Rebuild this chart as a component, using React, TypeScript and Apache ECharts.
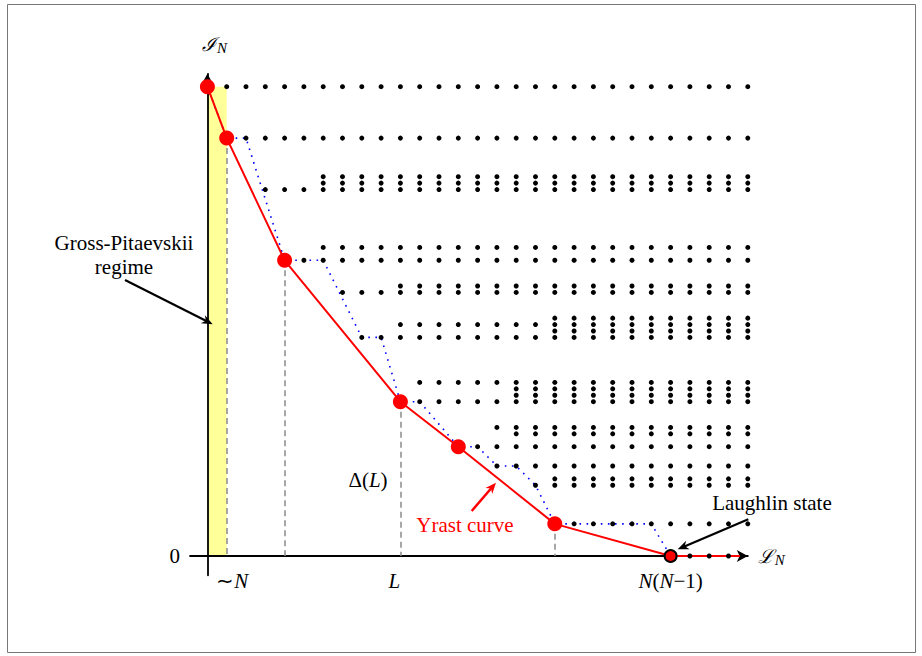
import React, { useEffect, useRef } from "react";
import * as echarts from "echarts";

// Energy levels (rows) of the many-body spectrum: interaction energy and the
// range of angular momentum L (column index) over which states exist.
const levelEnergy = [73, 65, 59, 58, 57, 48, 46, 42, 41, 37, 36, 35, 34, 27, 26, 25, 24, 20, 19, 17, 14, 12, 11, 5, 0];
const levelFirstL = [1, 2, 6, 6, 3, 6, 5, 10, 7, 18, 10, 18, 8, 11, 16, 16, 11, 15, 16, 14, 15, 18, 17, 19, 25];
const levelLastL = [28, 28, 28, 28, 28, 28, 28, 28, 28, 28, 28, 28, 28, 28, 28, 28, 28, 28, 28, 28, 28, 28, 28, 28, 27];

// Yrast curve (red)
const yrastL = [0, 1, 4, 10, 13, 18];
const yrastE = [73, 65, 46, 24, 17, 5];
const laughlinL = 24;
const laughlinE = 0;
const yrastTailL = 27.6;

// Lowest state for each L (blue dotted)
const lowestL = [0, 1, 2, 4, 6, 8, 9, 10, 11, 13, 14, 15, 16, 17, 18, 23, 24];
const lowestE = [73, 65, 65, 46, 46, 34, 34, 24, 24, 17, 17, 14, 14, 11, 5, 5, 0];

// Dashed drop lines
const dropL = [1, 4, 10, 18];
const dropE = [65, 46, 24, 5];

// Gross-Pitaevskii band
const gpBandL = [0, 1];
const gpBandTop = 73;

// Tick labels
const xTickValues = [1, 10, 24];
const xTickLabels = ["{sh|∼}{i|N}", "{il|L}", "{i|N}({i|N}−1)"];
const yTickValues = [0];
const yTickLabels = ["0"];

const FONT = "Liberation Serif";
const SCRIPT_FONT = "DejaVu Serif";

function arrow(x1: number, y1: number, x2: number, y2: number, color: string, w: number) {
  const dx = x2 - x1;
  const dy = y2 - y1;
  const len = Math.hypot(dx, dy);
  const ux = dx / len;
  const uy = dy / len;
  const hl = 11;
  const hw = 4.5;
  const bx = x2 - ux * hl;
  const by = y2 - uy * hl;
  const nx = -uy;
  const ny = ux;
  return [
    {
      type: "line",
      shape: { x1, y1, x2: x2 - ux * 6, y2: y2 - uy * 6 },
      style: { stroke: color, lineWidth: w },
      z: 20,
    },
    {
      type: "polygon",
      shape: {
        points: [
          [x2, y2],
          [bx + nx * hw, by + ny * hw],
          [x2 - ux * hl * 0.7, y2 - uy * hl * 0.7],
          [bx - nx * hw, by - ny * hw],
        ],
      },
      style: { fill: color },
      z: 20,
    },
  ];
}

export default function App() {
  const ref = useRef<HTMLDivElement>(null);

  useEffect(() => {
    if (!ref.current) return;
    const chart = echarts.init(ref.current, undefined, { renderer: "svg" });

    const states: number[][] = [];
    levelEnergy.forEach((e, i) => {
      for (let l = levelFirstL[i]; l <= levelLastL[i]; l++) states.push([l, e]);
    });

    const yrastPts = yrastL.map((l, i) => [l, yrastE[i]]);
    const redLine = [...yrastPts, [laughlinL, laughlinE], [yrastTailL, 0]];
    const bluePts = lowestL.map((l, i) => [l, lowestE[i]]);

    const richItalic = { fontStyle: "italic", fontFamily: FONT, fontSize: 21, color: "#000", lineHeight: 22 };
    const richUpright = { fontFamily: FONT, fontSize: 21, color: "#000", lineHeight: 22 };
    const nameRich = {
      s: { fontFamily: SCRIPT_FONT, fontStyle: "italic", fontSize: 19, color: "#000" },
      b: { fontFamily: FONT, fontStyle: "italic", fontSize: 15, color: "#000", verticalAlign: "bottom", padding: [8, 0, 0, 1] },
    };

    const option: any = {
      animation: false,
      backgroundColor: "#fff",
      textStyle: { fontFamily: FONT },
      grid: {
        left: 190.03,
        top: 73.83,
        width: 557.77,
        height: 501.45,
        containLabel: false,
        outerBoundsMode: "none",
      },
      xAxis: {
        type: "value",
        min: -0.9,
        max: 28,
        z: 1,
        splitLine: { show: false },
        axisTick: { show: false },
        axisLine: {
          onZero: true,
          symbol: ["none", "arrow"],
          symbolSize: [9, 11],
          lineStyle: { color: "#000", width: 1.8 },
        },
        axisLabel: {
          customValues: xTickValues,
          formatter: (v: number) => {
            const idx = xTickValues.indexOf(Math.round(v));
            return idx >= 0 ? xTickLabels[idx] : "";
          },
          margin: -5,
          color: "#000",
          fontFamily: FONT,
          fontSize: 21,
          lineHeight: 22,
          rich: {
            i: richItalic,
            u: richUpright,
            sh: { ...richUpright, padding: [0, 0, 0, 11] },
            il: { ...richItalic, padding: [0, 12, 0, 0] },
          },
        },
        name: "{s|ℒ}{b|N}",
        nameLocation: "end",
        nameGap: 10,
        nameTextStyle: { rich: nameRich },
      },
      yAxis: {
        type: "value",
        min: -3,
        max: 75,
        z: 1,
        splitLine: { show: false },
        axisTick: { show: false },
        axisLine: {
          onZero: true,
          symbol: ["none", "arrow"],
          symbolSize: [9, 11],
          lineStyle: { color: "#000", width: 1.8 },
        },
        axisLabel: {
          customValues: yTickValues,
          formatter: (v: number) => {
            const idx = yTickValues.indexOf(Math.round(v));
            return idx >= 0 ? yTickLabels[idx] : "";
          },
          margin: 10,
          color: "#000",
          fontFamily: FONT,
          fontSize: 21,
        },
        name: "{s|ℐ}{b|N}",
        nameLocation: "end",
        nameGap: 18,
        nameTextStyle: {
          padding: [0, 0, 0, 14],
          rich: nameRich,
        },
      },
      series: [
        {
          name: "band",
          type: "line",
          data: [],
          z: 0,
          silent: true,
          markArea: {
            silent: true,
            itemStyle: { color: "#ffff9a", opacity: 1 },
            data: [[{ coord: [gpBandL[0], 0] }, { coord: [gpBandL[1], gpBandTop] }]],
          },
        },
        {
          name: "drops",
          type: "line",
          data: [],
          z: 2,
          silent: true,
          markLine: {
            silent: true,
            symbol: ["none", "none"],
            label: { show: false },
            lineStyle: { color: "#8a8a8a", width: 1.5, type: [6, 4], opacity: 1 },
            data: dropL.map((l, i) => [{ coord: [l, dropE[i]] }, { coord: [l, 0] }]),
          },
        },
        {
          name: "lowest",
          type: "line",
          data: bluePts,
          z: 3,
          showSymbol: false,
          silent: true,
          lineStyle: { color: "#0000ff", width: 1.6, type: [1.6, 5.5] },
        },
        {
          name: "yrast",
          type: "line",
          data: redLine,
          z: 4,
          showSymbol: false,
          silent: true,
          lineStyle: { color: "#ff0000", width: 2 },
        },
        {
          name: "states",
          type: "scatter",
          data: states,
          z: 5,
          symbolSize: 5,
          silent: true,
          itemStyle: { color: "#000", opacity: 1 },
        },
        {
          name: "yrastDots",
          type: "scatter",
          data: yrastPts,
          z: 6,
          symbolSize: 15,
          silent: true,
          itemStyle: { color: "#ff0000", opacity: 1 },
        },
        {
          name: "laughlin",
          type: "scatter",
          data: [[laughlinL, laughlinE]],
          z: 6,
          symbolSize: 12,
          silent: true,
          itemStyle: { color: "#ff0000", borderColor: "#000", borderWidth: 2, opacity: 1 },
        },
      ],
      graphic: [
        {
          type: "rect",
          shape: { x: 7.5, y: 4.5, width: 908, height: 648 },
          style: { fill: "none", stroke: "#777", lineWidth: 1 },
          z: 0,
          silent: true,
        },
        {
          type: "text",
          x: 124,
          y: 255,
          style: {
            text: "Gross-Pitaevskii\nregime",
            fontFamily: FONT,
            fontSize: 21,
            fill: "#000",
            align: "center",
            verticalAlign: "middle",
            lineHeight: 24,
          },
          z: 20,
        },
        {
          type: "text",
          x: 772,
          y: 503,
          style: {
            text: "Laughlin state",
            fontFamily: FONT,
            fontSize: 21,
            fill: "#000",
            align: "center",
            verticalAlign: "middle",
          },
          z: 20,
        },
        {
          type: "text",
          x: 465,
          y: 525,
          style: {
            text: "Yrast curve",
            fontFamily: FONT,
            fontSize: 21,
            fill: "#ff0000",
            align: "center",
            verticalAlign: "middle",
          },
          z: 20,
        },
        {
          type: "text",
          x: 368,
          y: 480,
          style: {
            text: "Δ({i|L})",
            fontFamily: FONT,
            fontSize: 21,
            fill: "#000",
            align: "center",
            verticalAlign: "middle",
            rich: { i: richItalic },
          },
          z: 20,
        },
        ...arrow(125, 280, 212.7, 324.3, "#000", 2.2),
        ...arrow(471.7, 511, 496, 482.7, "#ff0000", 2.5),
        ...arrow(748.3, 519.3, 677.7, 549.3, "#000", 2.2),
      ],
    };

    chart.setOption(option);
    return () => chart.dispose();
  }, []);

  return (
    <div
      ref={ref}
      style={{ position: "absolute", left: 0, top: 0, width: 922, height: 656, background: "#fff" }}
    />
  );
}
